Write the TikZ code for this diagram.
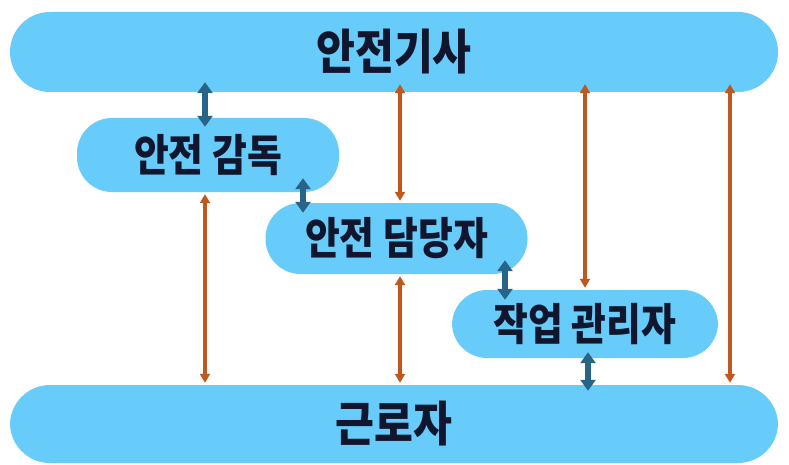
\documentclass[tikz,border=0pt]{standalone}
\usepackage{fontspec}
\usepackage{graphicx}
\newfontfamily\cjk{Noto Sans CJK KR}
\usetikzlibrary{arrows.meta}
\definecolor{lb}{RGB}{104,204,250}
\definecolor{ob}{RGB}{190,88,30}
\definecolor{db}{RGB}{40,100,135}
\definecolor{txt}{RGB}{16,22,45}
\newcommand{\narrowtxt}[2]{\scalebox{#1}[1]{#2}}
\tikzset{
  bar/.style={fill=lb, draw=none, text=txt, rounded corners=40pt, minimum width=768pt, minimum height=80pt, inner sep=0pt, font=\cjk\bfseries\fontsize{48}{50}\selectfont},
  role/.style={fill=lb, draw=none, text=txt, rounded corners=35pt, minimum width=262pt, minimum height=71pt, inner sep=0pt, font=\cjk\bfseries\fontsize{44}{46}\selectfont},
  oarr/.style={draw=ob, line width=3.4pt, {Triangle[length=9pt,width=10pt]}-{Triangle[length=9pt,width=10pt]}},
  barr/.style={draw=db, line width=6pt, {Triangle[length=11pt,width=15pt]}-{Triangle[length=11pt,width=15pt]}}
}
\begin{document}
\begin{tikzpicture}[x=1pt,y=-1pt]
\useasboundingbox (0,0) rectangle (789,465);
\node[bar] (top) at (394,52) {\narrowtxt{0.88}{안전기사}};
\node[bar, minimum height=78pt] (bot) at (394,424) {\narrowtxt{0.88}{근로자}};
\node[role, minimum height=74pt] (gam) at (208,155) {\narrowtxt{0.86}{안전 감독}};
\node[role] (dam) at (396.5,238.5) {\narrowtxt{0.86}{안전 담당자}};
\node[role, minimum height=68pt, minimum width=266pt] (gwan) at (585,324) {\narrowtxt{0.86}{작업 관리자}};
% orange
\draw[oarr] ([yshift=-2pt]gam.south -| 205,0) -- ([yshift=2pt]bot.north -| 205,0);
\draw[oarr] ([yshift=8pt]top.south -| 400,0) -- ([yshift=2pt]dam.north -| 400,0);
\draw[oarr] ([yshift=-2pt]dam.south -| 400,0) -- ([yshift=2pt]bot.north -| 400,0);
\draw[oarr] ([yshift=8pt]top.south -| 585,0) -- ([yshift=2pt]gwan.north -| 585,0);
\draw[oarr] ([yshift=8pt]top.south -| 730,0) -- ([yshift=2pt]bot.north -| 730,0);
% blue
\draw[barr] ([yshift=10pt]top.south -| 205,0) -- ([yshift=-9pt]gam.north -| 205,0);
\draw[barr] ([yshift=14pt]gam.south -| 303,0) -- ([yshift=-10pt]dam.north -| 303,0);
\draw[barr] ([yshift=14pt]dam.south -| 505,0) -- ([yshift=-10pt]gwan.north -| 505,0);
\draw[barr] ([yshift=6pt]gwan.south -| 588,0) -- ([yshift=-6pt]bot.north -| 588,0);
\end{tikzpicture}
\end{document}
